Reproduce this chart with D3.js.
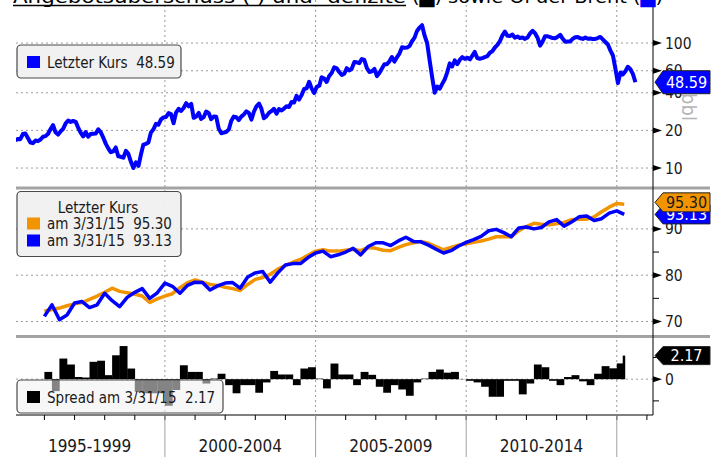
<!DOCTYPE html>
<html lang="de">
<head>
<meta charset="utf-8">
<title>Angebotsüberschuss und Brent</title>
<script src="https://cdn.jsdelivr.net/npm/d3@7"></script>
<style>
body { margin:0; background:#fff; }
#chart svg { display:block; font-family:"DejaVu Sans Condensed","DejaVu Sans",sans-serif; }
.grid line { stroke:#9a9a9a; stroke-width:1; stroke-dasharray:2,3; }
.tick-label { font-size:15.5px; fill:#1a1a1a; }
.legend text { font-size:15px; fill:#1a1a1a; white-space:pre; }
.period { font-size:17px; fill:#1a1a1a; }
</style>
</head>
<body>
<div id="chart"></div>
<script>
// Brent, Monatswerte ab Jan 1995 (USD/bbl)
var brentStart = new Date(1995, 0, 15);
var brentValues = [
	16.7, 17.1, 17.0, 18.7, 18.9, 17.4, 16.0, 15.8, 16.6, 16.4, 16.9, 17.8,
	18.0, 18.8, 20.5, 22.0, 19.3, 18.5, 19.6, 20.6, 22.8, 24.0, 23.4, 23.8,
	23.4, 20.9, 19.2, 17.9, 19.4, 17.8, 18.7, 18.8, 18.9, 20.4, 19.3, 17.5,
	15.6, 14.3, 13.4, 13.6, 14.6, 12.4, 12.3, 12.1, 13.7, 13.0, 11.2, 10.0,
	11.1, 10.4, 12.7, 15.4, 15.6, 16.0, 19.2, 20.4, 22.6, 22.2, 24.5, 25.4,
	25.6, 27.5, 27.0, 22.8, 27.8, 29.8, 28.6, 30.2, 33.0, 31.2, 32.6, 25.2,
	25.8, 27.6, 24.7, 25.5, 28.3, 27.6, 24.6, 25.8, 25.7, 20.6, 19.0, 19.2,
	19.5, 20.4, 23.8, 25.8, 25.5, 24.2, 25.8, 26.8, 28.4, 27.6, 24.4, 28.2,
	31.2, 32.8, 30.0, 25.0, 25.9, 27.6, 28.5, 29.8, 27.2, 29.6, 28.9, 29.9,
	31.2, 30.8, 33.7, 33.4, 37.8, 35.3, 38.3, 42.9, 43.5, 49.0, 43.2, 39.8,
	44.6, 45.6, 53.2, 52.0, 48.8, 54.5, 57.6, 64.0, 62.8, 58.6, 55.5, 56.8,
	62.9, 60.3, 62.2, 70.4, 70.1, 69.0, 74.5, 73.2, 62.9, 58.7, 59.4, 62.1,
	54.4, 57.9, 62.3, 67.6, 67.6, 71.4, 77.3, 71.0, 77.1, 82.4, 92.6, 91.6,
	92.0, 95.0, 103.4, 110.5, 125.0, 133.0, 139.0, 114.5, 99.6, 72.5, 53.0, 40.0,
	44.8, 43.2, 46.9, 51.0, 58.0, 68.7, 65.0, 72.6, 67.8, 73.3, 77.1, 74.8,
	76.3, 73.9, 78.9, 84.9, 75.9, 74.9, 75.7, 77.2, 78.5, 83.6, 86.2, 92.1,
	96.6, 103.8, 114.7, 123.4, 114.6, 113.9, 116.8, 110.3, 112.9, 109.6, 110.6, 108.0,
	110.8, 119.4, 125.3, 119.8, 110.4, 95.3, 102.7, 113.5, 113.1, 111.6, 109.6, 109.3,
	112.4, 116.2, 108.6, 102.4, 102.7, 103.0, 107.9, 111.3, 111.6, 109.1, 107.9, 110.8,
	108.2, 108.9, 107.5, 107.8, 109.7, 111.9, 106.9, 101.9, 97.3, 87.4, 79.5, 62.4,
	47.8, 58.2, 56.0, 59.5, 64.6, 61.7, 56.6, 48.59
];

// Angebot (orange) und Nachfrage (blau), Quartale ab 1996 (Mio. Fass/Tag)
var quarterStart = new Date(1996, 0, 1);
var supplyValues = [
	72.2, 72.6, 72.9, 73.4, 73.8, 74.1, 74.8, 75.5, 76.3, 77.2,
	76.5, 76.2, 75.9, 75.5, 74.1, 74.9, 75.5, 76.0, 77.3, 78.4,
	79.0, 78.5, 78.0, 77.8, 77.4, 77.1, 76.7, 78.0, 79.1, 79.5,
	80.2, 81.3, 82.1, 82.8, 83.4, 84.3, 85.2, 85.5, 85.2, 85.2,
	85.4, 85.6, 85.3, 86.0, 85.8, 85.4, 85.3, 86.0, 86.6, 87.0,
	87.3, 86.9, 86.2, 85.5, 86.0, 86.5, 86.8, 87.1, 87.4, 87.8,
	88.3, 88.3, 88.3, 89.6, 90.5, 91.2, 91.0, 90.9, 91.1, 91.4,
	92.0, 92.1, 92.1, 92.6, 93.7, 94.7, 95.5, 95.30
];
var demandValues = [
	71.1, 73.6, 70.4, 71.4, 74.0, 74.3, 73.0, 73.6, 76.1, 74.5,
	73.2, 75.2, 76.3, 77.1, 75.0, 76.2, 78.3, 77.6, 76.1, 77.8,
	78.5, 78.4, 76.8, 77.7, 78.3, 78.4, 77.2, 79.6, 80.5, 80.8,
	78.5, 80.5, 82.2, 82.5, 82.5, 83.8, 84.8, 85.2, 84.0, 84.4,
	85.0, 85.8, 84.4, 86.2, 87.0, 87.0, 86.4, 87.4, 88.2, 87.3,
	87.2, 86.5, 85.6, 84.8, 85.3, 86.3, 87.1, 87.7, 88.4, 89.6,
	89.9, 89.2, 88.3, 90.2, 90.4, 90.0, 90.3, 91.5, 92.0, 90.6,
	91.5, 92.6, 92.8, 91.8, 92.2, 93.4, 93.9, 93.13
];
// Spread je Quartal, letzter Wert = Stand 3/31/15
var spreadValues = [
	0.67, -1.1, 1.9, 1.35, 0.2, 0.15, 1.6, 1.7, 0.37, 2.2,
	3.05, 0.98, -1.16, -1.3, -1.3, -1.3, -2.45, -1.0, 1.28, 0.67,
	0.67, -0.4, 0.05, 0.5, -0.55, -1.3, -0.55, -0.55, -1.25, -0.3,
	0.76, 0.43, 0.43, -0.55, 0.98, 1.1, 0.05, -0.85, 1.44, 0.43,
	0.43, -0.55, 0.67, 0.4, -0.7, -1.25, -0.55, -0.95, -1.53, -0.3,
	0.05, 0.67, 0.89, 0.6, 0.67, 0.02, -0.15, -0.3, -0.7, -1.62,
	-1.62, -0.15, -0.15, -1.4, -0.4, 1.35, 1.1, -0.15, -0.55, 0.2,
	0.37, -0.2, -0.55, 0.5, 1.2, 1.0, 1.45, 2.17
];

var periodLabels = ["1995-1999", "2000-2004", "2005-2009", "2010-2014"];
var brentTicks = [10, 20, 40, 60, 100];
var balanceTicks = [70, 80, 90];
var balanceMinorTicks = [75, 85];
var spreadTicks = [0];
var spreadMinorTicks = [-2, 2];

var settings = {
	width: 721, height: 457,
	left: 16, right: 653,		// Plotbereich
	axisY: 415,
	panels: {
		brent:   [0, 186],
		balance: [190, 334],
		spread:  [339, 415]
	},
	blue: "#0000ff",
	orange: "#f29400"
};

(function(){
	var s = settings;
	var svg = d3.select("#chart").append("svg")
		.attr("width", s.width).attr("height", s.height);

	var x = d3.scaleTime()
		.domain([new Date(1995, 0, 1), new Date(2016, 2, 15)])
		.range([14.3, s.right]);
	var yBrent = d3.scaleLog().domain([7.18, 221]).range([s.panels.brent[1], s.panels.brent[0]]);
	var yBal = d3.scaleLinear().domain([67.3, 98.4]).range([s.panels.balance[1], s.panels.balance[0]]);
	var ySpread = d3.scaleLinear().domain([-3.3, 3.7]).range([s.panels.spread[1], s.panels.spread[0]]);

	var brentDates = brentValues.map(function(d, i){ return d3.timeMonth.offset(brentStart, i); });
	var quarterDates = supplyValues.map(function(d, i){ return d3.timeMonth.offset(quarterStart, 3 * i); });

	// clip fuer oberes Panel
	svg.append("clipPath").attr("id", "clipTop").append("rect")
		.attr("x", s.left).attr("y", 0)
		.attr("width", s.right - s.left).attr("height", s.panels.brent[1]);

	// ---- Gitter ----
	var grid = svg.append("g").attr("class", "grid");
	var majorYears = [2000, 2005, 2010, 2015].map(function(y){ return new Date(y, 0, 1); });
	grid.selectAll("line.v").data(majorYears).enter().append("line")
		.attr("class", "v")
		.attr("x1", function(d){ return x(d); }).attr("x2", function(d){ return x(d); })
		.attr("y1", 0).attr("y2", s.axisY);
	function hGrid(ticks, scale){
		grid.append("g").selectAll("line").data(ticks).enter().append("line")
			.attr("x1", s.left).attr("x2", s.right)
			.attr("y1", function(d){ return scale(d); })
			.attr("y2", function(d){ return scale(d); });
	}
	hGrid(brentTicks, yBrent);
	hGrid(balanceTicks, yBal);
	hGrid(spreadTicks, ySpread);

	// ---- Brent ----
	var brentLine = d3.line()
		.x(function(d, i){ return x(brentDates[i]); })
		.y(function(d){ return yBrent(d); });
	svg.append("path")
		.datum(brentValues)
		.attr("clip-path", "url(#clipTop)")
		.attr("fill", "none")
		.attr("stroke", s.blue)
		.attr("stroke-width", 4)
		.attr("stroke-linejoin", "round")
		.attr("d", brentLine);

	// ---- Angebot / Nachfrage ----
	var balLine = d3.line()
		.x(function(d, i){ return x(quarterDates[i]); })
		.y(function(d){ return yBal(d); });
	svg.append("path").datum(supplyValues)
		.attr("fill", "none").attr("stroke", s.orange).attr("stroke-width", 3.5)
		.attr("stroke-linejoin", "round").attr("d", balLine);
	svg.append("path").datum(demandValues)
		.attr("fill", "none").attr("stroke", s.blue).attr("stroke-width", 3.5)
		.attr("stroke-linejoin", "round").attr("d", balLine);

	// ---- Spread ----
	var last = spreadValues.length - 1;
	svg.append("g").selectAll("rect").data(spreadValues).enter().append("rect")
		.attr("x", function(d, i){ return i < last ? x(quarterDates[i]) : x(quarterDates[i]) - 1.5; })
		.attr("width", function(d, i){ return i < last ? x(quarterDates[i + 1]) - x(quarterDates[i]) + 0.3 : 2.5; })
		.attr("y", function(d){ return ySpread(Math.max(0, d)); })
		.attr("height", function(d){ return Math.abs(ySpread(d) - ySpread(0)); })
		.attr("fill", "#000");

	// ---- Trennbalken ----
	svg.append("g").selectAll("rect").data([186.5, 335]).enter().append("rect")
		.attr("x", s.left).attr("y", function(d){ return d; })
		.attr("width", 710 - s.left).attr("height", 3)
		.attr("fill", "#a3a3a3");

	// ---- Legenden ----
	function legend(x0, y0, w, h, opacity){
		var g = svg.append("g").attr("class", "legend");
		g.append("rect")
			.attr("x", x0).attr("y", y0).attr("width", w).attr("height", h)
			.attr("rx", 4).attr("ry", 4)
			.attr("fill", "#f0f0f0").attr("fill-opacity", opacity)
			.attr("stroke", "#4a4a4a").attr("stroke-width", 1.2);
		return g;
	}
	function legendRow(g, y, color, label){
		g.append("rect").attr("x", 27).attr("y", y - 11.5).attr("width", 13).attr("height", 12).attr("fill", color);
		g.append("text").attr("x", 47).attr("y", y).text(label);
	}
	var lg1 = legend(17, 45, 164, 33, 0.95);
	legendRow(lg1, 67.5, s.blue, "Letzter Kurs  " + d3.format(".2f")(brentValues[brentValues.length - 1]));

	var lg2 = legend(17, 191.5, 164, 65, 0.95);
	lg2.append("text").attr("x", 98).attr("y", 213).attr("text-anchor", "middle").text("Letzter Kurs");
	legendRow(lg2, 229, s.orange, "am 3/31/15  " + d3.format(".2f")(supplyValues[last]));
	legendRow(lg2, 246, s.blue, "am 3/31/15  " + d3.format(".2f")(demandValues[last]));

	var lg3 = legend(17, 380, 206, 33, 0.55);
	legendRow(lg3, 402.5, "#000", "Spread am 3/31/15  " + d3.format(".2f")(spreadValues[last]));

	// ---- rechte Achse ----
	var axis = svg.append("g");
	axis.append("line").attr("x1", s.right).attr("x2", s.right)
		.attr("y1", 0).attr("y2", s.axisY).attr("stroke", "#000").attr("stroke-width", 1);
	function yTicks(ticks, scale, fmt){
		var t = axis.append("g").selectAll("g").data(ticks).enter().append("g")
			.attr("transform", function(d){ return "translate(0," + scale(d) + ")"; });
		t.append("path").attr("d", "M" + s.right + ",-3L" + (s.right + 9) + ",0L" + s.right + ",3Z").attr("fill", "#000");
		t.append("text").attr("class", "tick-label")
			.attr("x", s.right + 12).attr("dy", "0.36em")
			.text(fmt);
	}
	function yMinor(ticks, scale){
		axis.append("g").selectAll("line").data(ticks).enter().append("line")
			.attr("x1", s.right).attr("x2", s.right + 6)
			.attr("y1", function(d){ return scale(d); }).attr("y2", function(d){ return scale(d); })
			.attr("stroke", "#000");
	}
	yTicks(brentTicks, yBrent, function(d){ return d; });
	yTicks(balanceTicks, yBal, function(d){ return d; });
	yMinor(balanceMinorTicks, yBal);
	yTicks(spreadTicks, ySpread, function(d){ return d; });
	yMinor(spreadMinorTicks, ySpread);

	axis.append("text")
		.attr("transform", "translate(682,107) rotate(90)")
		.attr("text-anchor", "middle")
		.attr("font-size", 20).attr("fill", "#b4b4b4")
		.text("bbl");

	// Wertmarken
	function valueTag(cy, h, label, fill, color){
		var g = axis.append("g");
		g.append("path")
			.attr("d", "M655," + cy + "L663," + (cy - h / 2) + "L710," + (cy - h / 2) +
				"L710," + (cy + h / 2) + "L663," + (cy + h / 2) + "Z")
			.attr("fill", fill).attr("stroke", "#222").attr("stroke-width", 1);
		g.append("text").attr("x", 686.5).attr("y", cy).attr("dy", "0.36em")
			.attr("text-anchor", "middle").attr("font-size", 16).attr("fill", color)
			.text(label);
	}
	valueTag(yBrent(brentValues[brentValues.length - 1]), 23, d3.format(".2f")(brentValues[brentValues.length - 1]), s.blue, "#fff");
	valueTag(yBal(demandValues[last]), 19, d3.format(".2f")(demandValues[last]), s.blue, "#fff");
	valueTag(yBal(supplyValues[last]) - 2, 19, d3.format(".2f")(supplyValues[last]), s.orange, "#1a1a1a");
	valueTag(ySpread(spreadValues[last]), 18, d3.format(".2f")(spreadValues[last]), "#000", "#fff");

	// ---- Zeitachse ----
	var xAxis = svg.append("g");
	xAxis.append("line").attr("x1", s.left).attr("x2", s.right)
		.attr("y1", s.axisY).attr("y2", s.axisY).attr("stroke", "#000");
	var years = d3.timeYear.range(new Date(1996, 0, 1), new Date(2016, 0, 2));
	xAxis.selectAll("line.yt").data(years).enter().append("line")
		.attr("class", "yt")
		.attr("x1", function(d){ return x(d); }).attr("x2", function(d){ return x(d); })
		.attr("y1", s.axisY).attr("y2", s.axisY + 5)
		.attr("stroke", "#000");
	xAxis.selectAll("line.mj").data(majorYears).enter().append("line")
		.attr("class", "mj")
		.attr("x1", function(d){ return x(d); }).attr("x2", function(d){ return x(d); })
		.attr("y1", s.axisY).attr("y2", s.height)
		.attr("stroke", "#a0a0a0");
	xAxis.selectAll("text").data(periodLabels).enter().append("text")
		.attr("class", "period")
		.attr("text-anchor", "middle")
		.attr("x", function(d, i){
			var a = new Date(1995 + 5 * i, 0, 1), b = new Date(2000 + 5 * i, 0, 1);
			return (x(a) + x(b)) / 2;
		})
		.attr("y", 452)
		.text(function(d){ return d; });

	// ---- Titel (oben abgeschnitten) ----
	var title = svg.append("g").attr("font-size", 17).attr("fill", "#000");
	title.append("text").attr("x", 13).attr("y", 2.5)
		.attr("textLength", 393).attr("lengthAdjust", "spacingAndGlyphs")
		.text("Angebotsüberschuss (  ) und -defizite");
	title.append("line").attr("x1", 13).attr("x2", 406).attr("y1", 5.5).attr("y2", 5.5)
		.attr("stroke", "#000").attr("stroke-width", 1.5);
	var t2 = title.append("text").attr("x", 412).attr("y", 2.5)
		.attr("textLength", 251).attr("lengthAdjust", "spacingAndGlyphs");
	t2.append("tspan").text("(");
	t2.append("tspan").attr("fill", "#000").text("\u2588");
	t2.append("tspan").text(") sowie Öl der Brent (");
	t2.append("tspan").attr("fill", s.blue).text("\u2588");
	t2.append("tspan").text(")");
})();
</script>
</body>
</html>
